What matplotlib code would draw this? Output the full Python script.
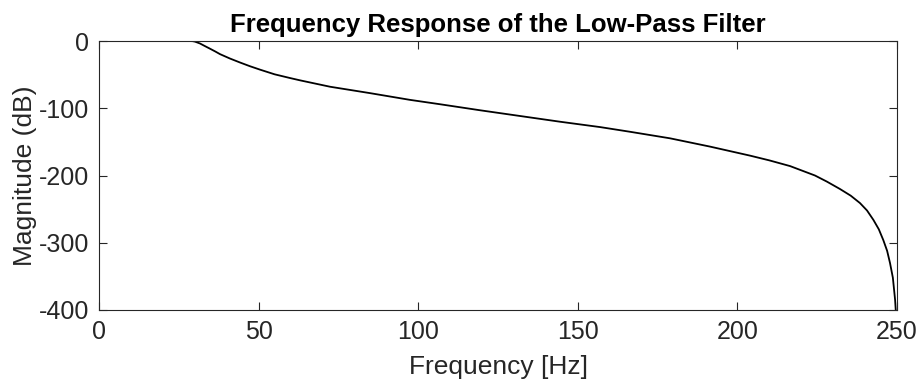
import matplotlib
matplotlib.use("Agg")
import matplotlib.pyplot as plt

# Magnitude response samples of the low-pass filter
freq_hz = [0, 10, 20, 28, 29.3, 30, 31.6, 33.2, 34.8, 36.4, 37.9, 41.0, 44.2,
           47.3, 50.4, 55.0, 59.8, 63.0, 72.4, 84.9, 97.4, 106.8, 119.4,
           131.9, 144.4, 157.0, 166.4, 178.9, 191.4, 204.0, 210.0, 216.5,
           224.3, 228.0, 232.1, 235.5, 238.4, 240.6, 242.6, 244.3, 245.7,
           246.9, 247.8, 248.7, 249.4, 250.0]
mag_db = [0, 0, 0, 0, -0.2, -0.8, -3.6, -7.6, -11.5, -15.5, -19.5, -26,
          -32, -37.5, -42.5, -49.5, -55, -58.5, -68, -77.5, -87.5, -94,
          -103, -111.5, -120, -128, -135, -144.7, -157, -170.5, -177.5,
          -186, -200, -209, -220, -230, -241, -252, -266, -280, -296,
          -312, -330, -352, -385, -430]

x_ticks = [0, 50, 100, 150, 200, 250]
y_ticks = [0, -100, -200, -300, -400]

plt.rcParams['font.family'] = ['Liberation Sans', 'DejaVu Sans']
plt.rcParams['axes.unicode_minus'] = False
axis_gray = '#262626'

fig = plt.figure(figsize=(9.22, 3.87), dpi=100)
ax = fig.add_axes([0.1074, 0.199, 0.8655, 0.695])

ax.plot(freq_hz, mag_db, color='black', linewidth=1.3)

ax.set_xlim(0, 250)
ax.set_ylim(-400, 0)
ax.set_xticks(x_ticks)
ax.set_yticks(y_ticks)

ax.tick_params(direction='in', top=True, right=True, length=6, width=0.8,
               colors=axis_gray, labelsize=18, pad=7)
for spine in ax.spines.values():
    spine.set_color(axis_gray)
    spine.set_linewidth(0.8)

ax.set_xlabel('Frequency [Hz]', fontsize=19, color=axis_gray, labelpad=8)
ax.set_ylabel('Magnitude (dB)', fontsize=19, color=axis_gray, labelpad=1.5)
ax.set_title('Frequency Response of the Low-Pass Filter', fontsize=18.5,
             fontweight='bold', color='black', pad=6.5)

fig.savefig('out.png', dpi=100)
